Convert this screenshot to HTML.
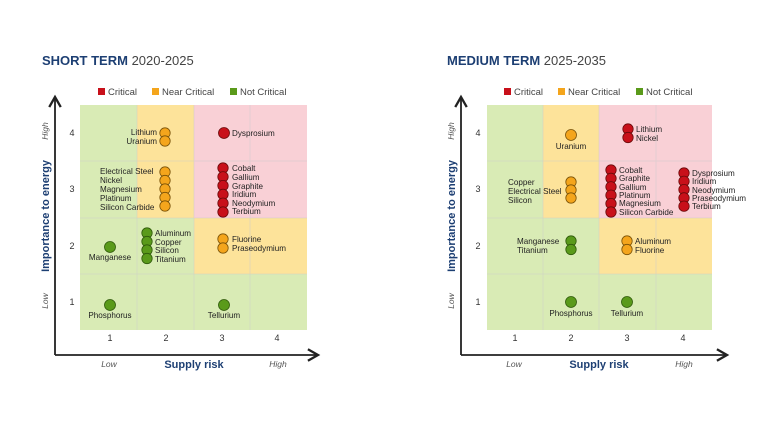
<!DOCTYPE html>
<html><head><meta charset="utf-8"><style>
html,body{margin:0;padding:0;background:#fff;width:768px;height:432px;overflow:hidden}
svg{display:block;font-family:"Liberation Sans",sans-serif}
.l{font-size:8.1px;fill:#222}
.n{font-size:9px;fill:#333}
.i{font-size:8.5px;fill:#555;font-style:italic}
.ax{font-size:11px;font-weight:bold;fill:#1d3f73}
.lg{font-size:9.5px;fill:#444}
.r{fill:#c8101a;stroke:#6a0a0a;stroke-width:.8}
.o{fill:#f4a51c;stroke:#7a5208;stroke-width:.8}
.g{fill:#5a9a1a;stroke:#2f5a0a;stroke-width:.8}
</style></head><body>
<svg width="768" height="432" viewBox="0 0 768 432">
<defs>
<marker id="ah" viewBox="0 0 10 10" refX="8" refY="5" markerWidth="8" markerHeight="8" orient="auto"><path d="M1,1 L8,5 L1,9" fill="none" stroke="#222" stroke-width="1.6"/></marker>
</defs>
<!-- LEFT -->
<text x="42" y="65" style="font-size:13px;fill:#1d3f73"><tspan font-weight="bold">SHORT TERM</tspan><tspan fill="#444"> 2020-2025</tspan></text>
<rect x="98" y="88" width="7" height="7" fill="#c8101a"/><text x="108" y="95" class="lg">Critical</text>
<rect x="152" y="88" width="7" height="7" fill="#f4a51c"/><text x="162" y="95" class="lg">Near Critical</text>
<rect x="230" y="88" width="7" height="7" fill="#5a9a1a"/><text x="240" y="95" class="lg">Not Critical</text>
<g>
<rect x="80" y="105" width="57" height="113" fill="#d9ebb5"/>
<rect x="137" y="105" width="57" height="113" fill="#fde39a"/>
<rect x="194" y="105" width="113" height="113" fill="#f9d0d6"/>
<rect x="80" y="218" width="114" height="56" fill="#d9ebb5"/>
<rect x="194" y="218" width="113" height="56" fill="#fde39a"/>
<rect x="80" y="274" width="227" height="56" fill="#d9ebb5"/>
<path d="M137,105V330M194,105V330M250,105V330M80,161H307M80,218H307M80,274H307" stroke="#ccc" stroke-opacity=".6" stroke-width="0.8"/>
</g>
<line x1="55" y1="355" x2="55" y2="97" stroke="#222" stroke-width="1.8" marker-end="url(#ah)"/>
<line x1="55" y1="355" x2="318" y2="355" stroke="#222" stroke-width="1.8" marker-end="url(#ah)"/>
<text class="n" x="72" y="136" text-anchor="middle">4</text><text class="n" x="72" y="192" text-anchor="middle">3</text><text class="n" x="72" y="249" text-anchor="middle">2</text><text class="n" x="72" y="305" text-anchor="middle">1</text>
<text class="n" x="110" y="341" text-anchor="middle">1</text><text class="n" x="166" y="341" text-anchor="middle">2</text><text class="n" x="222" y="341" text-anchor="middle">3</text><text class="n" x="277" y="341" text-anchor="middle">4</text>
<text class="i" x="109" y="367" text-anchor="middle">Low</text><text class="i" x="278" y="367" text-anchor="middle">High</text>
<text class="ax" x="194" y="368" text-anchor="middle">Supply risk</text>
<text class="i" transform="translate(48,131) rotate(-90)" text-anchor="middle">High</text>
<text class="i" transform="translate(48,301) rotate(-90)" text-anchor="middle">Low</text>
<text class="ax" transform="translate(49,216) rotate(-90)" text-anchor="middle">Importance to energy</text>
<circle class="o" cx="165" cy="133" r="5.2"/><circle class="o" cx="165" cy="141" r="5.2"/>
<text class="l" x="157" y="135" text-anchor="end">Lithium</text><text class="l" x="157" y="144" text-anchor="end">Uranium</text>
<circle class="r" cx="224" cy="133" r="5.5"/><text class="l" x="232" y="136">Dysprosium</text>
<circle class="o" cx="165" cy="172" r="5.2"/><circle class="o" cx="165" cy="180.5" r="5.2"/><circle class="o" cx="165" cy="189" r="5.2"/><circle class="o" cx="165" cy="197.5" r="5.2"/><circle class="o" cx="165" cy="206" r="5.2"/>
<text class="l" x="100" y="174">Electrical Steel</text><text class="l" x="100" y="183">Nickel</text><text class="l" x="100" y="192">Magnesium</text><text class="l" x="100" y="201">Platinum</text><text class="l" x="100" y="210">Silicon Carbide</text>
<circle class="r" cx="223" cy="168" r="5.2"/><circle class="r" cx="223" cy="176.8" r="5.2"/><circle class="r" cx="223" cy="185.6" r="5.2"/><circle class="r" cx="223" cy="194.4" r="5.2"/><circle class="r" cx="223" cy="203.2" r="5.2"/><circle class="r" cx="223" cy="212" r="5.2"/>
<text class="l" x="232" y="171">Cobalt</text><text class="l" x="232" y="180">Gallium</text><text class="l" x="232" y="189">Graphite</text><text class="l" x="232" y="197">Iridium</text><text class="l" x="232" y="206">Neodymium</text><text class="l" x="232" y="214">Terbium</text>
<circle class="g" cx="147" cy="233" r="5.2"/><circle class="g" cx="147" cy="241.5" r="5.2"/><circle class="g" cx="147" cy="250" r="5.2"/><circle class="g" cx="147" cy="258.5" r="5.2"/>
<text class="l" x="155" y="236">Aluminum</text><text class="l" x="155" y="245">Copper</text><text class="l" x="155" y="253">Silicon</text><text class="l" x="155" y="262">Titanium</text>
<circle class="g" cx="110" cy="247" r="5.5"/><text class="l" x="110" y="260" text-anchor="middle">Manganese</text>
<circle class="o" cx="223" cy="239" r="5.2"/><circle class="o" cx="223" cy="248" r="5.2"/>
<text class="l" x="232" y="242">Fluorine</text><text class="l" x="232" y="251">Praseodymium</text>
<circle class="g" cx="110" cy="305" r="5.5"/><text class="l" x="110" y="318" text-anchor="middle">Phosphorus</text>
<circle class="g" cx="224" cy="305" r="5.5"/><text class="l" x="224" y="318" text-anchor="middle">Tellurium</text>

<!-- RIGHT -->
<text x="447" y="65" style="font-size:13px;fill:#1d3f73"><tspan font-weight="bold">MEDIUM TERM</tspan><tspan fill="#444"> 2025-2035</tspan></text>
<rect x="504" y="88" width="7" height="7" fill="#c8101a"/><text x="514" y="95" class="lg">Critical</text>
<rect x="558" y="88" width="7" height="7" fill="#f4a51c"/><text x="568" y="95" class="lg">Near Critical</text>
<rect x="636" y="88" width="7" height="7" fill="#5a9a1a"/><text x="646" y="95" class="lg">Not Critical</text>
<g>
<rect x="487" y="105" width="56" height="113" fill="#d9ebb5"/>
<rect x="543" y="105" width="56" height="113" fill="#fde39a"/>
<rect x="599" y="105" width="113" height="113" fill="#f9d0d6"/>
<rect x="487" y="218" width="112" height="56" fill="#d9ebb5"/>
<rect x="599" y="218" width="113" height="56" fill="#fde39a"/>
<rect x="487" y="274" width="225" height="56" fill="#d9ebb5"/>
<path d="M543,105V330M599,105V330M656,105V330M487,161H712M487,218H712M487,274H712" stroke="#ccc" stroke-opacity=".6" stroke-width="0.8"/>
</g>
<line x1="461" y1="355" x2="461" y2="97" stroke="#222" stroke-width="1.8" marker-end="url(#ah)"/>
<line x1="461" y1="355" x2="727" y2="355" stroke="#222" stroke-width="1.8" marker-end="url(#ah)"/>
<text class="n" x="478" y="136" text-anchor="middle">4</text><text class="n" x="478" y="192" text-anchor="middle">3</text><text class="n" x="478" y="249" text-anchor="middle">2</text><text class="n" x="478" y="305" text-anchor="middle">1</text>
<text class="n" x="515" y="341" text-anchor="middle">1</text><text class="n" x="571" y="341" text-anchor="middle">2</text><text class="n" x="627" y="341" text-anchor="middle">3</text><text class="n" x="683" y="341" text-anchor="middle">4</text>
<text class="i" x="514" y="367" text-anchor="middle">Low</text><text class="i" x="684" y="367" text-anchor="middle">High</text>
<text class="ax" x="599" y="368" text-anchor="middle">Supply risk</text>
<text class="i" transform="translate(454,131) rotate(-90)" text-anchor="middle">High</text>
<text class="i" transform="translate(454,301) rotate(-90)" text-anchor="middle">Low</text>
<text class="ax" transform="translate(455,216) rotate(-90)" text-anchor="middle">Importance to energy</text>
<circle class="o" cx="571" cy="135" r="5.5"/><text class="l" x="571" y="149" text-anchor="middle">Uranium</text>
<circle class="r" cx="628" cy="129" r="5.2"/><circle class="r" cx="628" cy="137.5" r="5.2"/>
<text class="l" x="636" y="132">Lithium</text><text class="l" x="636" y="141">Nickel</text>
<circle class="o" cx="571" cy="182" r="5.2"/><circle class="o" cx="571" cy="190" r="5.2"/><circle class="o" cx="571" cy="198" r="5.2"/>
<text class="l" x="508" y="185">Copper</text><text class="l" x="508" y="194">Electrical Steel</text><text class="l" x="508" y="203">Silicon</text>
<circle class="r" cx="611" cy="170" r="5.2"/><circle class="r" cx="611" cy="178.4" r="5.2"/><circle class="r" cx="611" cy="186.8" r="5.2"/><circle class="r" cx="611" cy="195.2" r="5.2"/><circle class="r" cx="611" cy="203.6" r="5.2"/><circle class="r" cx="611" cy="212" r="5.2"/>
<text class="l" x="619" y="173">Cobalt</text><text class="l" x="619" y="181">Graphite</text><text class="l" x="619" y="190">Gallium</text><text class="l" x="619" y="198">Platinum</text><text class="l" x="619" y="206">Magnesium</text><text class="l" x="619" y="215">Silicon Carbide</text>
<circle class="r" cx="684" cy="173" r="5.2"/><circle class="r" cx="684" cy="181.3" r="5.2"/><circle class="r" cx="684" cy="189.6" r="5.2"/><circle class="r" cx="684" cy="197.9" r="5.2"/><circle class="r" cx="684" cy="206.2" r="5.2"/>
<text class="l" x="692" y="176">Dysprosium</text><text class="l" x="692" y="184">Iridium</text><text class="l" x="692" y="193">Neodymium</text><text class="l" x="692" y="201">Praseodymium</text><text class="l" x="692" y="209">Terbium</text>
<circle class="g" cx="571" cy="241" r="5.2"/><circle class="g" cx="571" cy="249.5" r="5.2"/>
<text class="l" x="517" y="244">Manganese</text><text class="l" x="517" y="253">Titanium</text>
<circle class="o" cx="627" cy="241" r="5.2"/><circle class="o" cx="627" cy="249.5" r="5.2"/>
<text class="l" x="635" y="244">Aluminum</text><text class="l" x="635" y="253">Fluorine</text>
<circle class="g" cx="571" cy="302" r="5.5"/><text class="l" x="571" y="316" text-anchor="middle">Phosphorus</text>
<circle class="g" cx="627" cy="302" r="5.5"/><text class="l" x="627" y="316" text-anchor="middle">Tellurium</text>
</svg>
</body></html>
